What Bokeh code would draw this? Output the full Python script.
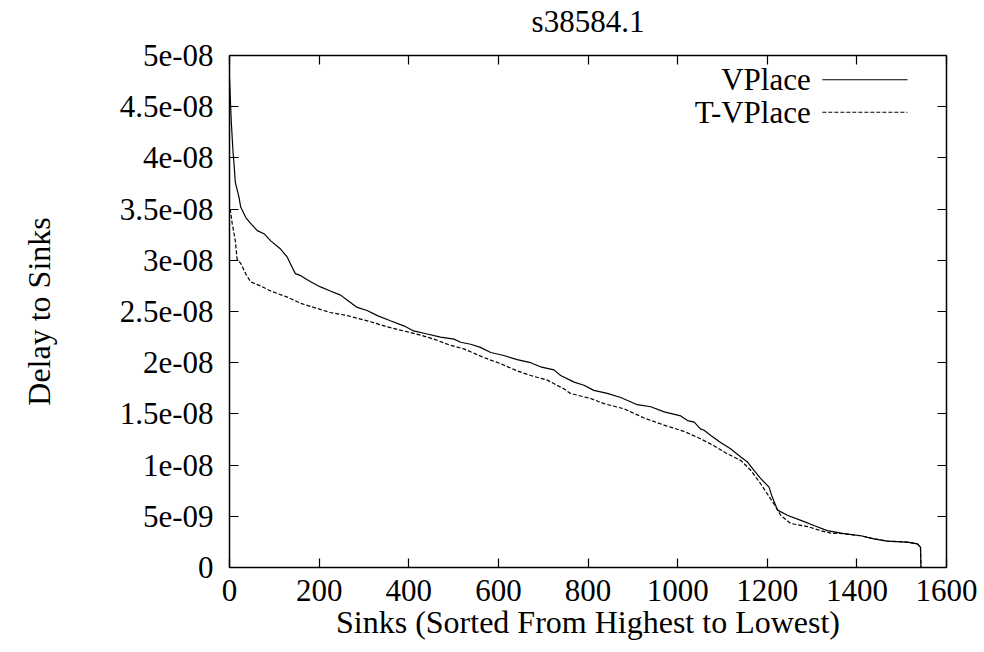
from bokeh.plotting import figure
from bokeh.models import LinearAxis, FixedTicker, Range1d, ColumnDataSource
from bokeh.core.properties import value
from bokeh.embed import file_html
from bokeh.resources import INLINE

# Delay to each sink, sinks sorted from highest to lowest delay
vplace_sink = [0, 4, 8, 10, 13, 21, 25, 36, 47, 62, 77, 92, 114, 129, 140, 147, 159,
               181, 203, 225, 248, 263, 285, 307, 330, 359, 389, 411, 441, 471, 501,
               516, 538, 560, 583, 612, 642, 672, 694, 724, 739, 769, 791, 813, 843,
               873, 910, 940, 970, 1007, 1022, 1037, 1051, 1059, 1074, 1096, 1118,
               1141, 1156, 1170, 1185, 1204, 1211, 1223, 1245, 1275, 1304, 1334,
               1371, 1409, 1438, 1468, 1513, 1535, 1542, 1543]
vplace_delay = [4.78e-8, 4.35e-8, 4.05e-8, 3.95e-8, 3.76e-8, 3.62e-8, 3.52e-8, 3.42e-8,
                3.36e-8, 3.29e-8, 3.26e-8, 3.19e-8, 3.11e-8, 3.03e-8, 2.93e-8, 2.87e-8,
                2.85e-8, 2.79e-8, 2.74e-8, 2.70e-8, 2.66e-8, 2.61e-8, 2.54e-8, 2.51e-8,
                2.46e-8, 2.41e-8, 2.36e-8, 2.31e-8, 2.28e-8, 2.25e-8, 2.23e-8, 2.20e-8,
                2.18e-8, 2.15e-8, 2.10e-8, 2.07e-8, 2.03e-8, 2.00e-8, 1.96e-8, 1.93e-8,
                1.875e-8, 1.81e-8, 1.78e-8, 1.73e-8, 1.70e-8, 1.66e-8, 1.59e-8, 1.57e-8,
                1.52e-8, 1.48e-8, 1.435e-8, 1.42e-8, 1.354e-8, 1.34e-8, 1.29e-8, 1.22e-8,
                1.16e-8, 1.08e-8, 1.03e-8, 9.5e-9, 8.7e-9, 7.85e-9, 6.9e-9, 5.6e-9,
                5.1e-9, 4.6e-9, 4.1e-9, 3.6e-9, 3.3e-9, 3.1e-9, 2.8e-9, 2.57e-9, 2.47e-9,
                2.31e-9, 1.98e-9, 0.0]

tvplace_sink = [0, 2, 6, 13, 17, 25, 36, 47, 69, 92, 129, 159, 188, 225, 263, 315, 352,
                389, 426, 456, 493, 523, 568, 605, 642, 672, 709, 746, 761, 806, 836,
                880, 925, 970, 1014, 1051, 1081, 1111, 1141, 1163, 1185, 1200, 1215,
                1230, 1252, 1290, 1319, 1342, 1371, 1409, 1438, 1468, 1513, 1535, 1542,
                1543]
tvplace_delay = [3.50e-8, 3.49e-8, 3.36e-8, 3.19e-8, 3.01e-8, 2.97e-8, 2.87e-8, 2.79e-8,
                 2.75e-8, 2.70e-8, 2.64e-8, 2.58e-8, 2.54e-8, 2.49e-8, 2.46e-8, 2.40e-8,
                 2.35e-8, 2.31e-8, 2.27e-8, 2.23e-8, 2.17e-8, 2.135e-8, 2.05e-8, 1.99e-8,
                 1.92e-8, 1.875e-8, 1.83e-8, 1.745e-8, 1.70e-8, 1.65e-8, 1.60e-8, 1.55e-8,
                 1.46e-8, 1.39e-8, 1.33e-8, 1.257e-8, 1.19e-8, 1.11e-8, 1.045e-8, 9.5e-9,
                 8.2e-9, 7.2e-9, 6.2e-9, 5.1e-9, 4.3e-9, 4.0e-9, 3.6e-9, 3.35e-9, 3.3e-9,
                 3.1e-9, 2.8e-9, 2.57e-9, 2.47e-9, 2.31e-9, 1.98e-9, 0.0]

x_ticks = [0, 200, 400, 600, 800, 1000, 1200, 1400, 1600]
y_ticks = [0.0, 5e-09, 1e-08, 1.5e-08, 2e-08, 2.5e-08, 3e-08, 3.5e-08, 4e-08, 4.5e-08, 5e-08]
y_tick_labels = ["0", "5e-09", "1e-08", "1.5e-08", "2e-08", "2.5e-08", "3e-08",
                 "3.5e-08", "4e-08", "4.5e-08", "5e-08"]

series_names = ["VPlace", "T-VPlace"]
chart_title = "s38584.1"

FONT = "Liberation Serif"
FS = "31px"
FS_LABEL = "32px"

p = figure(width=984, height=652, output_backend="svg", toolbar_location=None,
           x_range=Range1d(0, 1600), y_range=Range1d(0, 5e-8),
           min_border_left=229, min_border_right=38, min_border_top=55,
           min_border_bottom=85)
p.background_fill_color = "white"
p.border_fill_color = "white"
p.outline_line_color = "black"
p.outline_line_width = 1.5
p.grid.visible = False


def style_axis(ax, ticks, show_labels):
    ax.ticker = FixedTicker(ticks=ticks)
    ax.major_tick_in = 9
    ax.major_tick_out = 0
    ax.minor_tick_in = 0
    ax.minor_tick_out = 0
    ax.major_tick_line_color = "black"
    ax.major_tick_line_width = 1.2
    ax.axis_line_color = None
    ax.major_label_text_font = FONT
    ax.major_label_text_color = "black"
    if show_labels:
        ax.major_label_text_font_size = FS
    else:
        ax.major_label_text_font_size = "0px"
        ax.major_label_text_alpha = 0
        ax.major_label_standoff = 0


xa = p.xaxis[0]
ya = p.yaxis[0]
style_axis(xa, x_ticks, True)
style_axis(ya, y_ticks, True)
xa.major_label_standoff = 12
ya.major_label_standoff = 16
ya.major_label_overrides = dict(zip(y_ticks, y_tick_labels))

xa.axis_label = "Sinks (Sorted From Highest to Lowest)"
ya.axis_label = "Delay to Sinks"
for ax in (xa, ya):
    ax.axis_label_text_font = FONT
    ax.axis_label_text_font_size = FS_LABEL
    ax.axis_label_text_font_style = "normal"
    ax.axis_label_text_color = "black"
xa.axis_label_standoff = 0
ya.axis_label_standoff = 60

# mirrored ticks along the top; its axis label carries the chart title
top_axis = LinearAxis()
style_axis(top_axis, x_ticks, False)
top_axis.axis_label = chart_title
top_axis.axis_label_text_font = FONT
top_axis.axis_label_text_font_size = FS
top_axis.axis_label_text_font_style = "normal"
top_axis.axis_label_text_color = "black"
top_axis.axis_label_standoff = 17
p.add_layout(top_axis, "above")

right_axis = LinearAxis()
style_axis(right_axis, y_ticks, False)
p.add_layout(right_axis, "right")

src_v = ColumnDataSource(dict(x=vplace_sink, y=vplace_delay))
src_t = ColumnDataSource(dict(x=tvplace_sink, y=tvplace_delay))
p.line("x", "y", source=src_v, line_color="black", line_width=1.2)
p.line("x", "y", source=src_t, line_color="black", line_width=1.2, line_dash="4 2")

# key in the top right corner: label first, then the line sample
key_text_x = 1297
key_x0, key_x1 = 1323, 1513
key_y = [4.763e-8, 4.446e-8]
key_dash = ["solid", "4 2"]
p.text(x=[key_text_x] * 2, y=key_y, text=series_names, text_font=value(FONT),
       text_font_size=FS, text_align="right", text_baseline="middle", text_color="black")
for yy, dash in zip(key_y, key_dash):
    p.line(x=[key_x0, key_x1], y=[yy, yy], line_color="black", line_width=1.2,
           line_dash=dash)

open("out.html", "w").write(file_html(p, INLINE))
